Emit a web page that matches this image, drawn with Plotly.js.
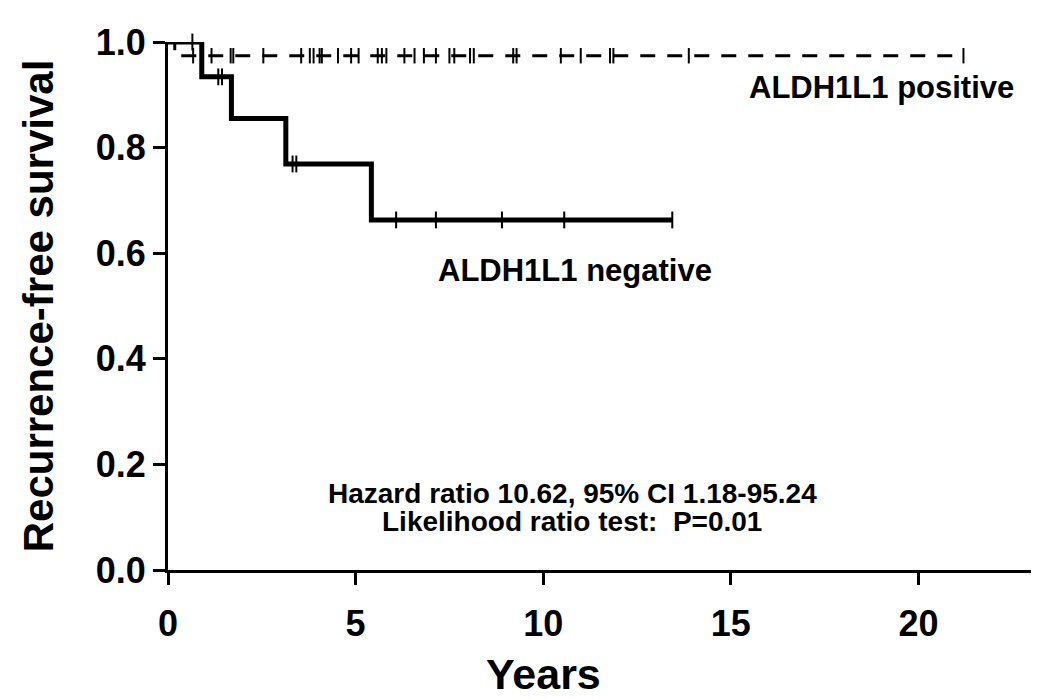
<!DOCTYPE html>
<html>
<head>
<meta charset="utf-8">
<script src="https://cdn.plot.ly/plotly-3.0.1.min.js"></script>
<style>html,body{margin:0;padding:0;background:#fff;}#chart{width:1050px;height:699px;}</style>
</head>
<body>
<div id="chart"></div>
<script>
// Kaplan-Meier step data
var negTimes = [0, 0.90, 1.69, 3.14, 5.42, 13.44];
var negSurv  = [1.0, 0.934, 0.855, 0.769, 0.663, 0.663];
var negCensorTimes = [0.65, 1.34, 1.44, 3.32, 3.42, 6.08, 7.14, 8.90, 10.56, 13.44];

var posTimes = [0, 0.18, 21.2];
var posSurv  = [1.0, 0.974, 0.974];
var posCensorTimes = [0.67, 1.16, 1.67, 1.74, 2.54, 3.55, 3.78, 3.88, 4.04, 4.10, 4.53,
  4.88, 5.08, 5.59, 5.70, 5.82, 6.30, 6.57, 6.82, 7.14, 7.50, 7.63, 8.05, 8.15,
  9.20, 9.29, 10.47, 11.00, 11.78, 11.87, 13.88, 21.2];

var xTicks = [0, 5, 10, 15, 20];
var yTicks = [0, 0.2, 0.4, 0.6, 0.8, 1.0];

function stepAt(times, surv, t) {
  var s = surv[0];
  for (var i = 0; i < times.length; i++) { if (times[i] <= t) s = surv[i]; }
  return s;
}
var negCensorSurv = negCensorTimes.map(function (t) { return stepAt(negTimes, negSurv, t); });
var posCensorSurv = posCensorTimes.map(function (t) { return stepAt(posTimes, posSurv, t); });

var FONT = 'Liberation Sans, Arial, sans-serif';

var traces = [
  { x: posTimes, y: posSurv, mode: 'lines', line: { shape: 'hv', color: '#000', width: 3, dash: '15px,12px' }, cliponaxis: false, hoverinfo: 'skip' },
  { x: posCensorTimes, y: posCensorSurv, mode: 'markers', marker: { symbol: 'line-ns', size: 11, line: { color: '#000', width: 2 } }, cliponaxis: false, hoverinfo: 'skip' },
  { x: negTimes, y: negSurv, mode: 'lines', line: { shape: 'hv', color: '#000', width: 5 }, cliponaxis: false, hoverinfo: 'skip' },
  { x: negCensorTimes, y: negCensorSurv, mode: 'markers', marker: { symbol: 'line-ns', size: 12, line: { color: '#000', width: 2 } }, cliponaxis: false, hoverinfo: 'skip' }
];

var layout = {
  width: 1050, height: 699,
  margin: { l: 168, r: 19, t: 42, b: 129 },
  paper_bgcolor: '#fff', plot_bgcolor: '#fff',
  showlegend: false,
  font: { family: FONT, color: '#000', weight: 'bold' },
  xaxis: {
    range: [0, 23], tickvals: xTicks, ticktext: xTicks.map(String),
    showgrid: false, zeroline: false, showline: true, linecolor: '#000', linewidth: 3,
    ticks: 'outside', ticklen: 12, tickwidth: 3, tickcolor: '#000',
    ticklabelstandoff: 8,
    tickfont: { family: FONT, size: 36, weight: 'bold' }
  },
  yaxis: {
    range: [0, 1.0], tickvals: yTicks, tickformat: '.1f',
    showgrid: false, zeroline: false, showline: true, linecolor: '#000', linewidth: 3,
    ticks: 'outside', ticklen: 12, tickwidth: 3, tickcolor: '#000',
    tickfont: { family: FONT, size: 36, weight: 'bold' },
    title: { text: 'Recurrence-free survival', font: { family: FONT, size: 42, weight: 'bold' }, standoff: 30 }
  },
  annotations: [
    { x: 10, y: -0.197, xref: 'x', yref: 'paper', text: 'Years', showarrow: false, yanchor: 'middle', font: { family: FONT, size: 43, weight: 'bold' } },
    { x: 19.02, y: 0.913, xref: 'x', yref: 'y', text: 'ALDH1L1 positive', showarrow: false, font: { family: FONT, size: 31, weight: 'bold' } },
    { x: 10.85, y: 0.568, xref: 'x', yref: 'y', text: 'ALDH1L1 negative', showarrow: false, font: { family: FONT, size: 31, weight: 'bold' } },
    { x: 10.78, y: 0.145, xref: 'x', yref: 'y', text: 'Hazard ratio 10.62, 95% CI 1.18-95.24', showarrow: false, font: { family: FONT, size: 28, weight: 'bold' } },
    { x: 10.78, y: 0.091, xref: 'x', yref: 'y', text: 'Likelihood ratio test:&nbsp; P=0.01', showarrow: false, font: { family: FONT, size: 28, weight: 'bold' } }
  ]
};

Plotly.newPlot('chart', traces, layout, { staticPlot: true, displayModeBar: false });
</script>
</body>
</html>
